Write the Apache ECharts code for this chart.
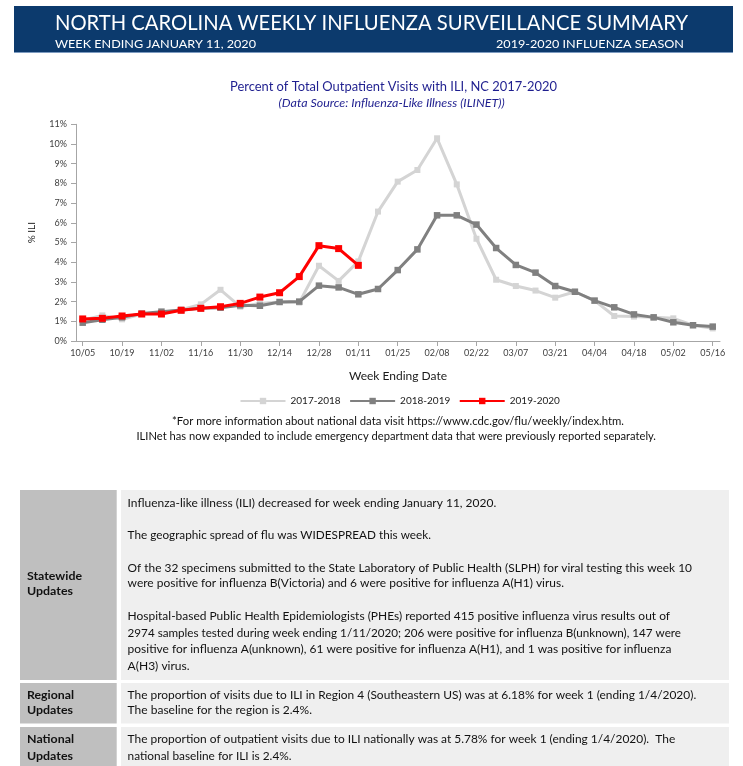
<!DOCTYPE html>
<html>
<head>
<meta charset="utf-8">
<script src="https://cdn.jsdelivr.net/npm/echarts@6/dist/echarts.min.js"></script>
<style>
html,body{margin:0;padding:0;background:#fff;}
#main{width:743px;height:766px;}
</style>
</head>
<body>
<div id="main"></div>
<script>
// ---------- DATA ----------
const weeks = ['10/05','10/12','10/19','10/26','11/02','11/09','11/16','11/23','11/30','12/07','12/14','12/21','12/28','01/04','01/11','01/18','01/25','02/01','02/08','02/15','02/22','02/29','03/07','03/14','03/21','03/28','04/04','04/11','04/18','04/25','05/02','05/09','05/16'];
const seriesNames = ['2017-2018','2018-2019','2019-2020'];
const ili1718 = [1.05,1.30,1.10,1.37,1.42,1.59,1.86,2.60,1.74,1.91,1.98,1.95,3.82,3.05,4.04,6.57,8.09,8.68,10.29,7.95,5.19,3.11,2.79,2.56,2.20,2.50,2.05,1.27,1.24,1.20,1.15,0.80,0.64];
const ili1819 = [0.93,1.08,1.20,1.39,1.49,1.57,1.66,1.69,1.81,1.79,1.98,2.00,2.81,2.72,2.37,2.64,3.60,4.65,6.38,6.38,5.91,4.72,3.86,3.47,2.79,2.50,2.05,1.71,1.35,1.20,0.95,0.80,0.73];
const ili1920 = [1.12,1.15,1.27,1.37,1.37,1.56,1.66,1.74,1.91,2.23,2.45,3.27,4.84,4.69,3.84];
const yTicks = [0,1,2,3,4,5,6,7,8,9,10,11];

const headerTitle = 'NORTH CAROLINA WEEKLY INFLUENZA SURVEILLANCE SUMMARY';
const headerLeft = 'WEEK ENDING JANUARY 11, 2020';
const headerRight = '2019-2020 INFLUENZA SEASON';
const chartTitle = 'Percent of Total Outpatient Visits with ILI, NC 2017-2020';
const chartSubtitle = '(Data Source: Influenza-Like Illness (ILINET))';
const footnotes = [
  '*For more information about national data visit https://www.cdc.gov/flu/weekly/index.htm.',
  'ILINet has now expanded to include emergency department data that were previously reported separately.'
];
const statewideLines = [
  'Influenza-like illness (ILI) decreased for week ending January 11, 2020.',
  'The geographic spread of flu was WIDESPREAD this week.',
  'Of the 32 specimens submitted to the State Laboratory of Public Health (SLPH) for viral testing this week 10',
  'were positive for influenza B(Victoria) and 6 were positive for influenza A(H1) virus.',
  'Hospital-based Public Health Epidemiologists (PHEs) reported 415 positive influenza virus results out of',
  '2974 samples tested during week ending 1/11/2020; 206 were positive for influenza B(unknown), 147 were',
  'positive for influenza A(unknown), 61 were positive for influenza A(H1), and 1 was positive for influenza',
  'A(H3) virus.'
];
const regionalLines = [
  'The proportion of visits due to ILI in Region 4 (Southeastern US) was at 6.18% for week 1 (ending 1/4/2020).',
  'The baseline for the region is 2.4%.'
];
const nationalLines = [
  'The proportion of outpatient visits due to ILI nationally was at 5.78% for week 1 (ending 1/4/2020).  The',
  'national baseline for ILI is 2.4%.'
];
const rowLabels = [['Statewide','Updates'],['Regional','Updates'],['National','Updates']];

// ---------- LAYOUT HELPERS ----------
const FONT = 'Lato';
const mctx = document.createElement('canvas').getContext('2d');
function textWidth(t, font){ mctx.font = font; return mctx.measureText(t).width; }
function fitText(t, x, y, w, font, fill){
  const s = w / textWidth(t, font);
  return {type:'text', x:x, y:y, scaleX:s, scaleY:1, silent:true, z:10,
    style:{text:t, font:font, fill:fill, textAlign:'left', textVerticalAlign:'middle', align:'left', verticalAlign:'middle'}};
}
function rect(x,y,w,h,fill){ return {type:'rect', silent:true, z:1, shape:{x:x,y:y,width:w,height:h}, style:{fill:fill}}; }

function draw(){
  const chart = echarts.init(document.getElementById('main'), null, {renderer:'canvas'});
  const g = [];
  // header banner
  g.push(rect(14,6,719,47,'#0c3a6d'));
  g.push(rect(14,52,719,1,'#7d9bc0'));
  g.push(fitText(headerTitle, 55, 23.5, 633, '21px '+FONT, '#ffffff'));
  g.push(fitText(headerLeft, 55, 44, 201, '11.5px '+FONT, '#ffffff'));
  g.push(fitText(headerRight, 496, 44, 188, '11.5px '+FONT, '#ffffff'));
  // chart titles
  g.push(fitText(chartTitle, 230, 87, 327, '13px '+FONT, '#1f1f8f'));
  g.push(fitText(chartSubtitle, 278.6, 103, 226, 'italic 11px '+FONT, '#1f1f8f'));
  // footnotes
  g.push(fitText(footnotes[0], 172, 421.5, 452, '11.5px '+FONT, '#111111'));
  g.push(fitText(footnotes[1], 136.5, 436.5, 519.5, '11.5px '+FONT, '#111111'));
  // table
  g.push(rect(20,490,96.7,190,'#bfbfbf'));  g.push(rect(121,490,608,190,'#efefef'));
  g.push(rect(20,683,96.7,40.5,'#bfbfbf')); g.push(rect(121,683,608,40.5,'#efefef'));
  g.push(rect(20,727,96.7,45,'#bfbfbf'));   g.push(rect(121,727,608,45,'#efefef'));
  const bodyFont = '11.5px '+FONT, boldFont = 'bold 11.5px '+FONT;
  const swY = [503.3,535,568.3,583.3,616.7,633.3,649.3,666.7];
  const swW = [368.6,303.4,564.4,436.4,542.4,553.4,543.8,62];
  statewideLines.forEach((t,i)=>g.push(fitText(t,127.6,swY[i],swW[i],bodyFont,'#111111')));
  const rgY = [695,710.7], rgW = [568.6,184.4];
  regionalLines.forEach((t,i)=>g.push(fitText(t,127.6,rgY[i],rgW[i],bodyFont,'#111111')));
  const naY = [739.3,756.7], naW = [547.6,164];
  nationalLines.forEach((t,i)=>g.push(fitText(t,127.6,naY[i],naW[i],bodyFont,'#111111')));
  const lblY = [[576.7,591.7],[695,710.7],[739.3,756.7]];
  const lblW = [[55,46],[47,46],[47,46]];
  rowLabels.forEach((pair,r)=>pair.forEach((t,k)=>g.push(fitText(t,27,lblY[r][k],lblW[r][k],boldFont,'#111111'))));

  const tickIdx = weeks.map((w,i)=>i).filter(i=>i%2===0);
  const axisGray = '#a6a6a6';
  const toXY = arr => arr.map((v,i)=>[i,v]);

  chart.setOption({
    animation:false,
    textStyle:{fontFamily:FONT},
    grid:{left:76, right:23, top:124.3, bottom:425, containLabel:false},
    legend:{
      data:seriesNames, left:239.5, top:396, padding:0,
      itemWidth:45, itemHeight:8, itemGap:8.5,
      textStyle:{fontFamily:FONT, fontSize:10, color:'#1a1a1a'}
    },
    xAxis:{
      type:'value', min:-0.34, max:32.37,
      name:'Week Ending Date', nameLocation:'middle', nameGap:29,
      nameTextStyle:{fontFamily:FONT, fontSize:12, color:'#1a1a1a'},
      axisLine:{show:true, onZero:false, lineStyle:{color:axisGray, width:1}},
      axisTick:{show:true, customValues:tickIdx, length:5, lineStyle:{color:axisGray}},
      axisLabel:{customValues:tickIdx, formatter:v=>weeks[Math.round(v)], margin:8, fontSize:9, color:'#404040', fontFamily:FONT},
      splitLine:{show:false}
    },
    yAxis:{
      type:'value', min:0, max:11, interval:1,
      name:'% ILI', nameLocation:'middle', nameGap:39,
      nameTextStyle:{fontFamily:FONT, fontSize:10, color:'#1a1a1a'},
      axisLine:{show:true, onZero:false, lineStyle:{color:axisGray, width:1}},
      axisTick:{show:true, length:5, lineStyle:{color:axisGray}},
      axisLabel:{formatter:'{value}%', margin:9, fontSize:9, color:'#404040', fontFamily:FONT},
      splitLine:{show:false}
    },
    series:[
      {name:seriesNames[0], type:'line', data:toXY(ili1718), symbol:'rect', symbolSize:6,
       color:'#d4d4d4', lineStyle:{color:'#d4d4d4', width:3}, itemStyle:{color:'#d4d4d4'}, z:2},
      {name:seriesNames[1], type:'line', data:toXY(ili1819), symbol:'rect', symbolSize:6.5,
       color:'#808080', lineStyle:{color:'#808080', width:3}, itemStyle:{color:'#808080'}, z:3},
      {name:seriesNames[2], type:'line', data:toXY(ili1920), symbol:'rect', symbolSize:7,
       color:'#ff0000', lineStyle:{color:'#ff0000', width:3}, itemStyle:{color:'#ff0000'}, z:4}
    ],
    graphic:{elements:g}
  });
}

if (document.fonts && document.fonts.load) {
  Promise.all([
    document.fonts.load('12px Lato'),
    document.fonts.load('bold 12px Lato'),
    document.fonts.load('italic 12px Lato')
  ]).then(draw, draw);
} else { draw(); }
</script>
</body>
</html>
